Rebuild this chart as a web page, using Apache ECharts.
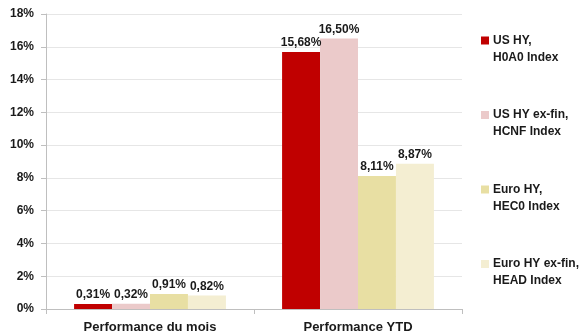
<!DOCTYPE html>
<html>
<head>
<meta charset="utf-8">
<script src="https://cdn.jsdelivr.net/npm/echarts@6/dist/echarts.min.js"></script>
<style>
  html, body { margin: 0; padding: 0; background: #fff; }
  #chart { width: 585px; height: 336px; }
</style>
</head>
<body>
<div id="chart"></div>
<script>
const categories = ['Performance du mois', 'Performance YTD'];
const seriesNames = ['US HY,\nH0A0 Index', 'US HY ex-fin,\nHCNF Index', 'Euro HY,\nHEC0 Index', 'Euro HY ex-fin,\nHEAD Index'];
const usHy = [0.31, 15.68];
const usHyExFin = [0.32, 16.50];
const euroHy = [0.91, 8.11];
const euroHyExFin = [0.82, 8.87];
const colors = ['#C00000', '#EBCACA', '#E8DFA3', '#F4EED2'];

const font = '"Liberation Sans", Arial, sans-serif';

// square marker sitting on the first line of a two-line legend label
const legendIcon = 'path://M0,0M0,0.5625L1,0.5625L1,1.5625L0,1.5625ZM1,4.25';

function fmt(v) {
  return v.toFixed(2).replace('.', ',') + '%';
}

function makeSeries(name, data, color) {
  return {
    name: name,
    type: 'bar',
    data: data,
    barGap: '0%',
    barCategoryGap: '27%',
    itemStyle: { color: color },
    label: {
      show: true,
      position: 'top',
      distance: 3,
      color: '#1a1a1a',
      fontFamily: font,
      fontWeight: 'bold',
      fontSize: 12,
      formatter: p => fmt(p.value)
    }
  };
}

const chartDom = echarts.init(document.getElementById('chart'));
const option = {
  animation: false,
  color: colors,
  grid: {
    left: 46,
    right: 123,
    top: 14,
    bottom: 27
  },
  legend: {
    orient: 'vertical',
    left: 481,
    top: 32,
    padding: 0,
    itemWidth: 8,
    itemHeight: 34,
    itemGap: 40.5,
    icon: legendIcon,
    selectedMode: false,
    textStyle: {
      fontFamily: font,
      fontWeight: 'bold',
      fontSize: 12,
      color: '#1a1a1a',
      lineHeight: 17,
      padding: [0, 0, 0, -1]
    },
    data: seriesNames
  },
  xAxis: {
    type: 'category',
    data: categories,
    axisLine: { lineStyle: { color: '#BFBFBF' } },
    axisTick: { show: true, length: 5, lineStyle: { color: '#BFBFBF' } },
    axisLabel: {
      margin: 12,
      color: '#1a1a1a',
      fontFamily: font,
      fontWeight: 'bold',
      fontSize: 13
    }
  },
  yAxis: {
    type: 'value',
    min: 0,
    max: 18,
    interval: 2,
    axisLine: { show: true, lineStyle: { color: '#BFBFBF' } },
    axisTick: { show: true, length: 5, lineStyle: { color: '#BFBFBF' } },
    splitLine: { lineStyle: { color: '#E6E6E6' } },
    axisLabel: {
      margin: 12,
      color: '#1a1a1a',
      fontFamily: font,
      fontWeight: 'bold',
      fontSize: 12,
      formatter: '{value}%'
    }
  },
  series: [
    makeSeries(seriesNames[0], usHy, colors[0]),
    makeSeries(seriesNames[1], usHyExFin, colors[1]),
    makeSeries(seriesNames[2], euroHy, colors[2]),
    makeSeries(seriesNames[3], euroHyExFin, colors[3])
  ]
};
chartDom.setOption(option);
</script>
</body>
</html>
